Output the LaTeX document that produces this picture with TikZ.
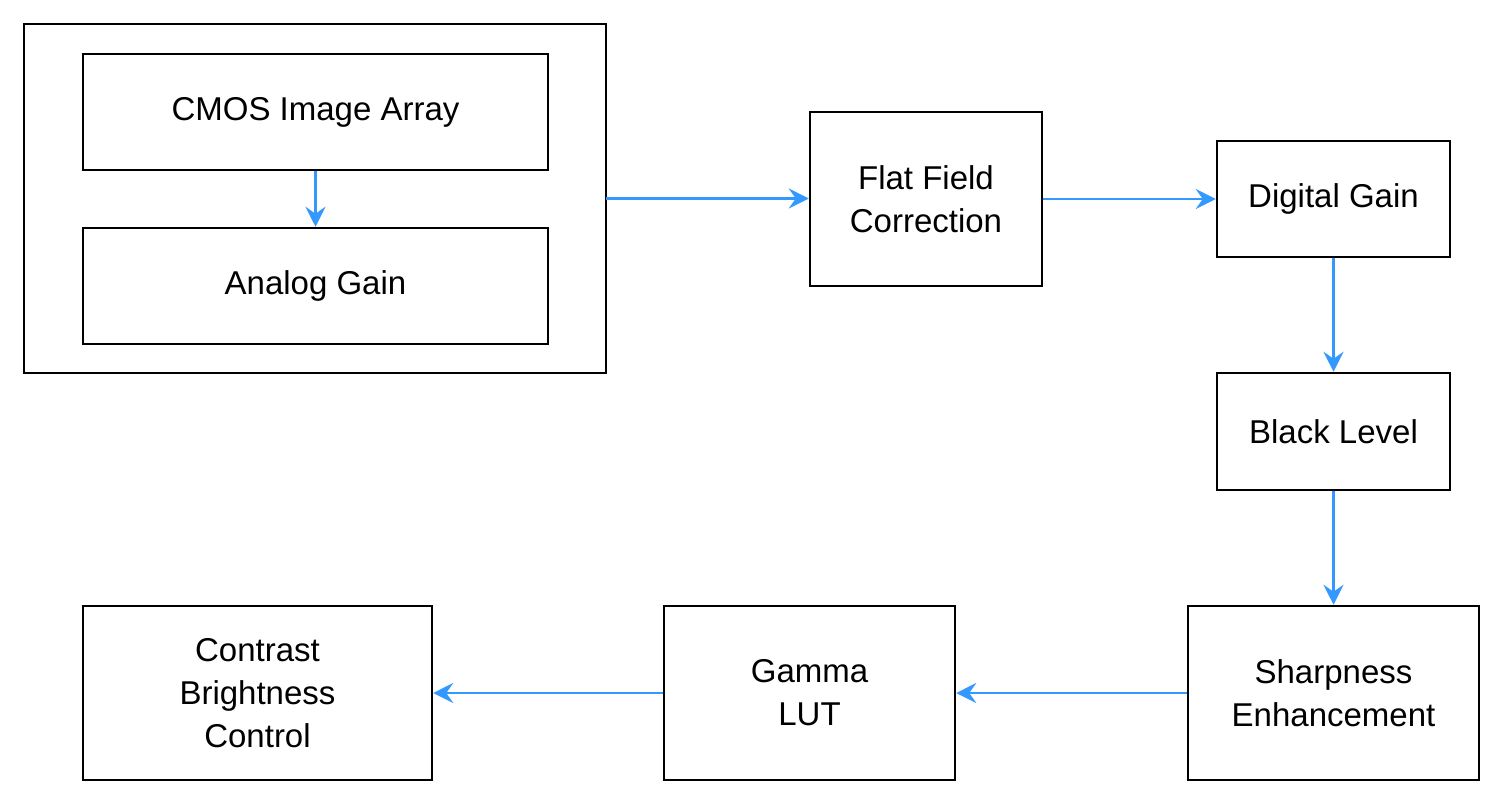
\documentclass[tikz,border=0pt]{standalone}
\usepackage{fontspec}
\setmainfont{Liberation Sans}
\usetikzlibrary{arrows.meta}
\definecolor{arr}{RGB}{51,153,255}
\begin{document}
\begin{tikzpicture}[x=1pt,y=-1pt,
  box/.style={draw=black,line width=2.5pt,align=center,font=\fontsize{33}{43}\selectfont},
  con/.style={draw=arr,line width=2.5pt,-{Stealth[length=20pt,width=20pt,inset=7pt]}}]
\useasboundingbox (0,0) rectangle (1504,806);
\draw[line width=2.5pt] (24,24) rectangle (606,373);
\node[box,minimum width=465pt,minimum height=116pt] (cmos) at (315.5,112) {CMOS Image Array};
\node[box,minimum width=465pt,minimum height=116pt] (ag) at (315.5,286) {Analog Gain};
\coordinate (outR) at (606,198.5);
\node[box,minimum width=232pt,minimum height=174pt] (ffc) at (926,199) {Flat Field\\Correction};
\node[box,minimum width=233pt,minimum height=116pt] (dg) at (1333.5,199) {Digital Gain};
\node[box,minimum width=233pt,minimum height=117pt] (bl) at (1333.5,431.5) {Black Level};
\node[box,minimum width=291pt,minimum height=174pt] (se) at (1333.5,693) {Sharpness\\Enhancement};
\node[box,minimum width=291pt,minimum height=174pt] (gl) at (809.5,693) {Gamma\\LUT};
\node[box,minimum width=349pt,minimum height=174pt] (cb) at (257.5,693) {Contrast\\Brightness\\Control};
\draw[con] (cmos) -- (ag);
\draw[con] (outR) -- (ffc.west|-outR);
\draw[con] (ffc) -- (dg);
\draw[con] (dg) -- (bl);
\draw[con] (bl) -- (se);
\draw[con] (se) -- (gl);
\draw[con] (gl) -- (cb);
\end{tikzpicture}
\end{document}
